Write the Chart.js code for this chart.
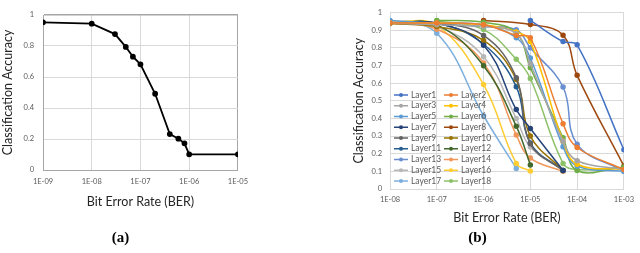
<!DOCTYPE html>
<html>
<head>
<meta charset="utf-8">
<script src="https://cdn.jsdelivr.net/npm/chart.js@4.4.1/dist/chart.umd.min.js"></script>
<style>
  body { margin: 0; background: #fff; }
  #wrapA { position: absolute; left: 0; top: 0; }
  #wrapB { position: absolute; left: 325px; top: 0; }
</style>
</head>
<body>
<div id="wrapA"><canvas id="chartA" width="255" height="253"></canvas></div>
<div id="wrapB"><canvas id="chartB" width="315" height="253"></canvas></div>
<script>
// ---- chart (a) ----
const berA = [1e-9, 1e-8, 3e-8, 5e-8, 7e-8, 1e-7, 2e-7, 4e-7, 6e-7, 8e-7, 1e-6, 1e-5];
const accA = [0.953, 0.944, 0.877, 0.794, 0.731, 0.682, 0.492, 0.232, 0.202, 0.172, 0.101, 0.101];
const xTicksA = [1e-9, 1e-8, 1e-7, 1e-6, 1e-5];
const xLabelsA = ['1E-09', '1E-08', '1E-07', '1E-06', '1E-05'];
const yTicksA = [0, 0.2, 0.4, 0.6, 0.8, 1];
const yLabelsA = ['0', '0.2', '0.4', '0.6', '0.8', '1'];

// ---- chart (b) ----
const berB = [1e-8, 1e-7, 1e-6, 5e-6, 1e-5, 5e-5, 1e-4, 1e-3];
const layerNames = ['Layer1', 'Layer2', 'Layer3', 'Layer4', 'Layer5', 'Layer6', 'Layer7', 'Layer8', 'Layer9',
  'Layer10', 'Layer11', 'Layer12', 'Layer13', 'Layer14', 'Layer15', 'Layer16', 'Layer17', 'Layer18'];
const layer1 = [null, null, null, null, 0.955, 0.835, 0.817, 0.222];
const layer2 = [0.94, 0.94, 0.93, 0.87, 0.857, 0.37, 0.235, 0.11];
const layer3 = [0.94, 0.93, 0.92, 0.88, 0.71, 0.27, 0.16, 0.11];
const layer4 = [0.94, 0.94, 0.93, 0.89, 0.835, 0.27, 0.14, 0.11];
const layer5 = [0.955, 0.94, 0.93, 0.857, 0.742, 0.24, 0.13, 0.10];
const layer6 = [null, 0.955, 0.945, 0.885, 0.687, 0.29, 0.105, 0.125];
const layer7 = [0.94, 0.94, 0.815, 0.45, 0.343, 0.105, null, null];
const layer8 = [null, null, 0.955, null, 0.932, 0.871, 0.644, 0.13];
const layer9 = [0.94, 0.94, 0.87, 0.631, 0.256, 0.105, null, null];
const layer10 = [0.937, 0.92, 0.842, 0.62, 0.30, 0.105, null, null];
const layer11 = [0.94, 0.94, 0.82, 0.58, 0.26, 0.105, null, null];
const layer12 = [0.94, 0.93, 0.698, 0.356, 0.136, null, null, null];
const layer13 = [0.94, 0.935, 0.92, 0.902, 0.80, 0.578, 0.254, 0.10];
const layer14 = [0.94, 0.905, 0.714, 0.306, 0.175, 0.10, null, null];
const layer15 = [0.94, 0.92, 0.75, 0.40, 0.238, 0.105, null, null];
const layer16 = [0.95, 0.926, 0.592, 0.145, 0.102, null, null, null];
const layer17 = [0.953, 0.882, 0.415, 0.116, null, null, null, null];
const layer18 = [null, 0.953, 0.903, 0.735, 0.626, 0.145, 0.11, 0.12];
const layerValues = [layer1, layer2, layer3, layer4, layer5, layer6, layer7, layer8, layer9,
  layer10, layer11, layer12, layer13, layer14, layer15, layer16, layer17, layer18];
const layerColors = ['#4472C4', '#ED7D31', '#A5A5A5', '#FFC000', '#5B9BD5', '#70AD47', '#264478', '#9E480E', '#636363',
  '#997300', '#255E91', '#43682B', '#698ED0', '#F1975A', '#B7B7B7', '#FFCD33', '#7CAFDD', '#8CC168'];
const xTicksB = [1e-8, 1e-7, 1e-6, 1e-5, 1e-4, 1e-3];
const xLabelsB = ['1E-08', '1E-07', '1E-06', '1E-05', '1E-04', '1E-03'];
const yTicksB = [0, 0.1, 0.2, 0.3, 0.4, 0.5, 0.6, 0.7, 0.8, 0.9, 1];
const yLabelsB = ['0', '0.1', '0.2', '0.3', '0.4', '0.5', '0.6', '0.7', '0.8', '0.9', '1'];

const tickFont = { family: 'Lato, sans-serif', size: 7.5 };
const titleFont = { family: 'Lato, sans-serif', size: 12.5 };
const panelFont = { family: '"Liberation Serif", serif', size: 15, weight: 'bold' };

function fixedTicks(values) {
  return (scale) => { scale.ticks = values.map(v => ({ value: v })); };
}

// legend drawn inside the plot, two columns, bottom-left like the original
const insideLegend = {
  id: 'insideLegend',
  afterDatasetsDraw(chart) {
    const { ctx, chartArea } = chart;
    ctx.save();
    ctx.font = '8.5px Lato, sans-serif';
    ctx.textBaseline = 'middle';
    chart.data.datasets.forEach((ds, i) => {
      const col = i % 2;
      const row = Math.floor(i / 2);
      const x = chartArea.left + 4 + col * 50;
      const y = chartArea.bottom - 8 - (8 - row) * 10.75;
      ctx.strokeStyle = ds.borderColor;
      ctx.lineWidth = 1.5;
      ctx.beginPath();
      ctx.moveTo(x, y);
      ctx.lineTo(x + 14, y);
      ctx.stroke();
      ctx.fillStyle = ds.borderColor;
      ctx.beginPath();
      ctx.arc(x + 7, y, 2, 0, Math.PI * 2);
      ctx.fill();
      ctx.fillStyle = '#595959';
      ctx.fillText(ds.label, x + 17, y);
    });
    ctx.restore();
  },
};

new Chart(document.getElementById('chartA'), {
  type: 'line',
  data: {
    datasets: [{
      label: 'Accuracy',
      data: berA.map((x, i) => ({ x, y: accA[i] })),
      borderColor: '#000',
      backgroundColor: '#000',
      borderWidth: 1.8,
      pointRadius: 2,
      tension: 0,
    }],
  },
  options: {
    responsive: false,
    animation: false,
    layout: { padding: { left: 0, right: 14, top: 15, bottom: 0 } },
    plugins: {
      legend: { display: false },
      tooltip: { enabled: false },
      title: {
        display: true, text: '(a)', position: 'bottom', color: '#000',
        font: panelFont, padding: { top: 3, bottom: 6 },
      },
    },
    scales: {
      x: {
        type: 'logarithmic', min: 1e-9, max: 1e-5,
        afterBuildTicks: fixedTicks(xTicksA),
        afterFit: (s) => { s.height = 56; },
        ticks: { font: tickFont, color: '#595959', padding: 7, maxRotation: 0,
          callback: (v, i) => xLabelsA[i] },
        grid: { drawTicks: false, color: (c) => c.tick && c.tick.value === 1e-5 ? '#a6a6a6' : '#d9d9d9' },
        border: { color: '#a6a6a6' },
        title: { display: true, text: 'Bit Error Rate (BER)', color: '#262626', font: titleFont,
          padding: { top: 0, bottom: 16.5 } },
      },
      y: {
        min: 0, max: 1,
        afterBuildTicks: fixedTicks(yTicksA),
        afterFit: (s) => { s.width = 43; },
        ticks: { font: tickFont, color: '#595959', padding: 9, callback: (v, i) => yLabelsA[i] },
        grid: { drawTicks: false, color: (c) => c.tick && c.tick.value === 1 ? '#a6a6a6' : '#d9d9d9',
          lineWidth: (c) => c.tick && c.tick.value === 1 ? 1.5 : 1 },
        border: { color: '#a6a6a6' },
        title: { display: true, text: 'Classification Accuracy', color: '#262626', font: titleFont,
          padding: { top: 0, bottom: 0 } },
      },
    },
  },
});

new Chart(document.getElementById('chartB'), {
  type: 'line',
  data: {
    datasets: layerValues.map((vals, k) => ({
      label: layerNames[k],
      data: berB.map((x, i) => ({ x, y: vals[i] })),
      borderColor: layerColors[k],
      backgroundColor: layerColors[k],
      borderWidth: 1.5,
      pointRadius: 2,
      tension: 0.4,
      spanGaps: true,
    })),
  },
  options: {
    responsive: false,
    animation: false,
    layout: { padding: { left: 0, right: 10, top: 3, bottom: 0 } },
    plugins: {
      legend: { display: false },
      tooltip: { enabled: false },
      title: {
        display: true, text: '(b)', position: 'bottom', color: '#000',
        font: panelFont, padding: { top: 3, bottom: 6 },
      },
    },
    scales: {
      x: {
        type: 'logarithmic', min: 1e-8, max: 1e-3,
        afterBuildTicks: fixedTicks(xTicksB),
        afterFit: (s) => { s.height = 37; },
        ticks: { font: tickFont, color: '#595959', padding: 6, maxRotation: 0,
          callback: (v, i) => xLabelsB[i] },
        grid: { drawTicks: false, color: '#d9d9d9' },
        border: { color: '#d9d9d9' },
        title: { display: true, text: 'Bit Error Rate (BER)', color: '#262626', font: titleFont,
          padding: { top: 0, bottom: 0.5 } },
      },
      y: {
        min: 0, max: 1,
        afterBuildTicks: fixedTicks(yTicksB),
        afterFit: (s) => { s.width = 65; },
        ticks: { font: tickFont, color: '#595959', padding: 8, callback: (v, i) => yLabelsB[i] },
        grid: { drawTicks: false, color: '#d9d9d9' },
        border: { color: '#d9d9d9' },
        title: { display: true, text: 'Classification Accuracy', color: '#262626', font: titleFont,
          padding: { top: 26.5, bottom: 0 } },
      },
    },
  },
  plugins: [insideLegend],
});
</script>
</body>
</html>
